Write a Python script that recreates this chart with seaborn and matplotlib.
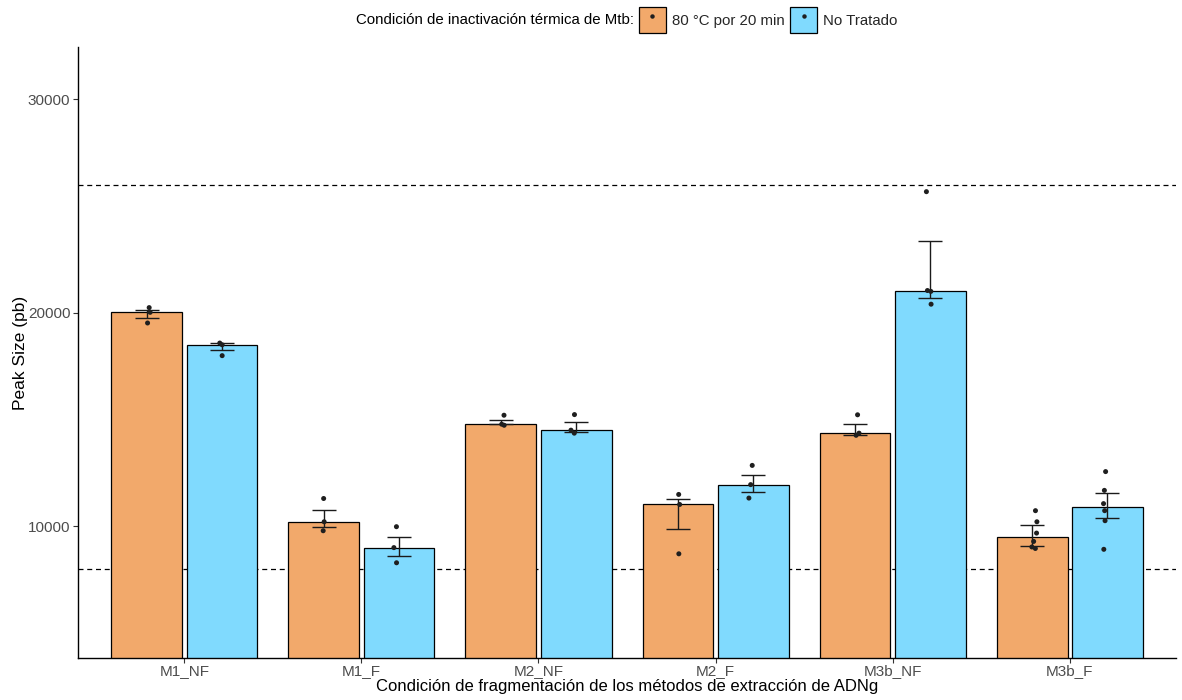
import numpy as np
import pandas as pd
import matplotlib
matplotlib.use("Agg")
import matplotlib.pyplot as plt
import seaborn as sns
from matplotlib.patches import Patch
from matplotlib.lines import Line2D
from matplotlib.legend_handler import HandlerTuple

# ---- data -------------------------------------------------------------
methods = ["M1_NF", "M1_F", "M2_NF", "M2_F", "M3b_NF", "M3b_F"]
treatments = ["80 °C por 20 min", "No Tratado"]
colors = ["#F2A96B", "#80DAFE"]

# individual replicate peak sizes (pb) per method
heated_points = [
    [20250, 20030, 19530],
    [11310, 10220, 9800],
    [15210, 14790, 14740],
    [11500, 11030, 8720],
    [15230, 14370, 14270],
    [10740, 10220, 9690, 9300, 9040, 8970],
]
untreated_points = [
    [18590, 18510, 18000],
    [9990, 9010, 8300],
    [15240, 14510, 14370],
    [12860, 11960, 11330],
    [25680, 21050, 21010, 20410],
    [12570, 11690, 11070, 10740, 10270, 8930],
]

# error bar limits (mean +/- SE) per method
heated_err_low = [19765, 9990, 14790, 9880, 14305, 9095]
heated_err_high = [20155, 10785, 14990, 11285, 14790, 10080]
untreated_err_low = [18250, 8640, 14430, 11630, 20720, 10410]
untreated_err_high = [18580, 9500, 14880, 12410, 23380, 11565]

thresholds = [8000, 26000]
y_ticks = [10000, 20000, 30000]

# ---- long-form table ----------------------------------------------------
rows = []
for treat, groups in zip(treatments, [heated_points, untreated_points]):
    for method, vals in zip(methods, groups):
        for v in vals:
            rows.append({"metodo": method, "tratamiento": treat, "peak": v})
df = pd.DataFrame(rows)

# ---- style --------------------------------------------------------------
sns.set_style("white")
plt.rcParams["font.family"] = ["Liberation Sans", "DejaVu Sans"]

fig = plt.figure(figsize=(11.82, 7.0), dpi=100)
ax = fig.add_axes([0.066, 0.06, 0.929, 0.873])

sns.barplot(
    data=df, x="metodo", y="peak", hue="tratamiento",
    order=methods, hue_order=treatments, palette=colors, saturation=1,
    estimator="median", errorbar=None,
    width=0.85, gap=0.06, edgecolor="black", linewidth=0.9,
    legend=False, ax=ax, zorder=2,
)

# error bars centred on the bar positions drawn by seaborn
for cont, lo, hi in zip(ax.containers,
                        [heated_err_low, untreated_err_low],
                        [heated_err_high, untreated_err_high]):
    xs = [p.get_x() + p.get_width() / 2 for p in cont.patches]
    lo = np.array(lo, float)
    hi = np.array(hi, float)
    ax.errorbar(xs, (lo + hi) / 2, yerr=(hi - lo) / 2, fmt="none",
                ecolor="#1a1a1a", elinewidth=1.0, capsize=8.5,
                capthick=1.0, zorder=3)

np.random.seed(3)
sns.stripplot(
    data=df, x="metodo", y="peak", hue="tratamiento",
    order=methods, hue_order=treatments,
    palette=["#1f1f1f", "#1f1f1f"], dodge=True, jitter=0.035,
    size=3.6, linewidth=0, legend=False, ax=ax, zorder=4,
)

for t in thresholds:
    ax.axhline(t, color="black", linestyle=(0, (4, 3)), linewidth=0.9, zorder=1)

ax.set_xlim(-0.6, len(methods) - 0.4)
ax.set_ylim(3840, 32460)
ax.set_yticks(y_ticks)
ax.set_yticklabels([str(v) for v in y_ticks])

for side in ["top", "right"]:
    ax.spines[side].set_visible(False)
for side in ["left", "bottom"]:
    ax.spines[side].set_color("black")
    ax.spines[side].set_linewidth(1.0)

ax.tick_params(axis="both", which="major", length=3.5, width=0.8,
               color="#333333", labelcolor="#4D4D4D", labelsize=11,
               left=True, bottom=True, pad=2)
ax.tick_params(axis="x", pad=0.5)

ax.set_xlabel("Condición de fragmentación de los métodos de extracción de ADNg",
              fontsize=12, color="black", labelpad=1)
ax.set_ylabel("Peak Size (pb)", fontsize=12.5, color="black")
ax.yaxis.set_label_coords(-0.046, 0.5)

# ---- legend across the top ----------------------------------------------
handles = [
    (Patch(facecolor=c, edgecolor="black", linewidth=0.9),
     Line2D([], [], marker="o", linestyle="", color="#1f1f1f", markersize=2.2))
    for c in colors
]
fig.text(634 / 1182, 1 - 20 / 700, "Condición de inactivación térmica de Mtb:",
         ha="right", va="center", fontsize=10.8, color="black")
fig.legend(
    handles, treatments,
    handler_map={tuple: HandlerTuple(ndivide=1)},
    loc="center left", bbox_to_anchor=(637 / 1182, 1 - 20 / 700),
    ncol=2, frameon=False, fontsize=10.8,
    handlelength=1.8, handleheight=2.2,
    handletextpad=0.4, columnspacing=0.4, borderpad=0.1, borderaxespad=0,
)

fig.savefig("out.png", dpi=100)
